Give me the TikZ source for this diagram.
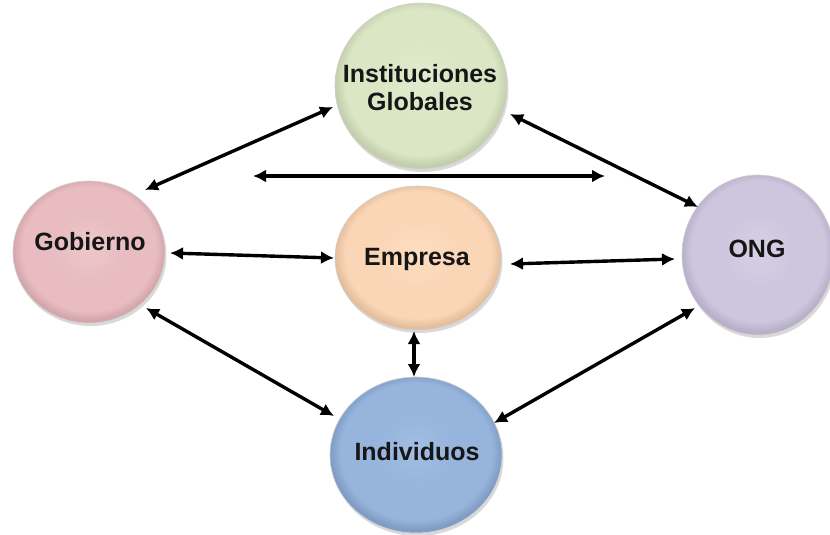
\documentclass[tikz,border=0pt]{standalone}
\usepackage{fontspec}
\setmainfont{Liberation Sans}
\usetikzlibrary{shapes.geometric,arrows.meta,shadows}
\definecolor{cInst}{RGB}{218,230,196}
\definecolor{cInstL}{RGB}{226,236,208}
\definecolor{cInstD}{RGB}{196,206,174}
\definecolor{cGob}{RGB}{232,188,192}
\definecolor{cGobL}{RGB}{238,200,204}
\definecolor{cGobD}{RGB}{210,166,170}
\definecolor{cEmp}{RGB}{250,214,182}
\definecolor{cEmpL}{RGB}{253,222,194}
\definecolor{cEmpD}{RGB}{228,190,156}
\definecolor{cOng}{RGB}{206,198,222}
\definecolor{cOngL}{RGB}{214,208,230}
\definecolor{cOngD}{RGB}{184,176,200}
\definecolor{cInd}{RGB}{150,180,220}
\definecolor{cIndL}{RGB}{162,190,228}
\definecolor{cIndD}{RGB}{128,156,196}
\definecolor{txt}{RGB}{22,22,22}
\pgfdeclareradialshading{shInst}{\pgfpoint{0bp}{2bp}}{color(0bp)=(cInstL); color(12bp)=(cInst); color(22bp)=(cInst); color(25bp)=(cInstD); color(50bp)=(cInstD)}
\pgfdeclareradialshading{shGob}{\pgfpoint{0bp}{2bp}}{color(0bp)=(cGobL); color(12bp)=(cGob); color(22bp)=(cGob); color(25bp)=(cGobD); color(50bp)=(cGobD)}
\pgfdeclareradialshading{shEmp}{\pgfpoint{0bp}{2bp}}{color(0bp)=(cEmpL); color(12bp)=(cEmp); color(22bp)=(cEmp); color(25bp)=(cEmpD); color(50bp)=(cEmpD)}
\pgfdeclareradialshading{shOng}{\pgfpoint{0bp}{2bp}}{color(0bp)=(cOngL); color(12bp)=(cOng); color(22bp)=(cOng); color(25bp)=(cOngD); color(50bp)=(cOngD)}
\pgfdeclareradialshading{shInd}{\pgfpoint{0bp}{2bp}}{color(0bp)=(cIndL); color(12bp)=(cInd); color(22bp)=(cInd); color(25bp)=(cIndD); color(50bp)=(cIndD)}
\tikzset{
  ball/.style={ellipse, inner sep=0pt, outer sep=0pt, draw=black!18, line width=0.6pt,
    drop shadow={shadow xshift=1.5pt, shadow yshift=-3pt, opacity=0.15, fill=black}},
  lbl/.style={text=txt, font=\bfseries\fontsize{25}{28}\selectfont, inner sep=0pt},
  dbl/.style={{Latex[length=13pt,width=13pt]}-{Latex[length=13pt,width=13pt]}, line width=3.4pt, draw=black}
}
\begin{document}
\begin{tikzpicture}[x=1pt,y=-1pt]
\useasboundingbox[fill=white] (0,0) rectangle (830,535);
% circles
\node[ball, shading=shInst, minimum width=172pt, minimum height=166pt] (inst) at (421,86) {};
\node[ball, shading=shGob, minimum width=152pt, minimum height=142pt] (gob) at (89,252) {};
\node[ball, shading=shEmp, minimum width=166pt, minimum height=144pt] (emp) at (418,258) {};
\node[ball, shading=shOng, minimum width=152pt, minimum height=160pt] (ong) at (758,255) {};
\node[ball, shading=shInd, minimum width=172pt, minimum height=156pt] (ind) at (416,455) {};
% labels
\node[lbl, align=center] (instT) at (420,88) {Instituciones\\Globales};
\node[lbl, anchor=base] (gobT) at (90,250) {Gobierno};
\node[lbl, anchor=base] (empT) at (417,265) {Empresa};
\node[lbl, anchor=base] (ongT) at (757,257) {ONG};
\node[lbl, anchor=base] (indT) at (417,460) {Individuos};
% free arrow
\coordinate (hl) at (253,176);
\coordinate (hr) at (605,176);
% connectors
\draw[dbl] ([shift={(-88,21)}]inst.center) -- ([shift={(56,-62)}]gob.center);
\draw[dbl] ([shift={(89,28)}]inst.center) -- ([shift={(-60,-48)}]ong.center);
\draw[dbl] (hl) -- (hr);
\draw[dbl] ([shift={(81,1)}]gob.center) -- ([shift={(-84,0)}]emp.center);
\draw[dbl] ([shift={(92,6)}]emp.center) -- ([shift={(-83,4)}]ong.center);
\draw[dbl] ([shift={(-4,73)}]emp.center) -- ([shift={(-2,-78)}]ind.center);
\draw[dbl] ([shift={(57,56)}]gob.center) -- ([shift={(-82,-39)}]ind.center);
\draw[dbl] ([shift={(-63,53)}]ong.center) -- ([shift={(78,-32)}]ind.center);
\end{tikzpicture}
\end{document}
